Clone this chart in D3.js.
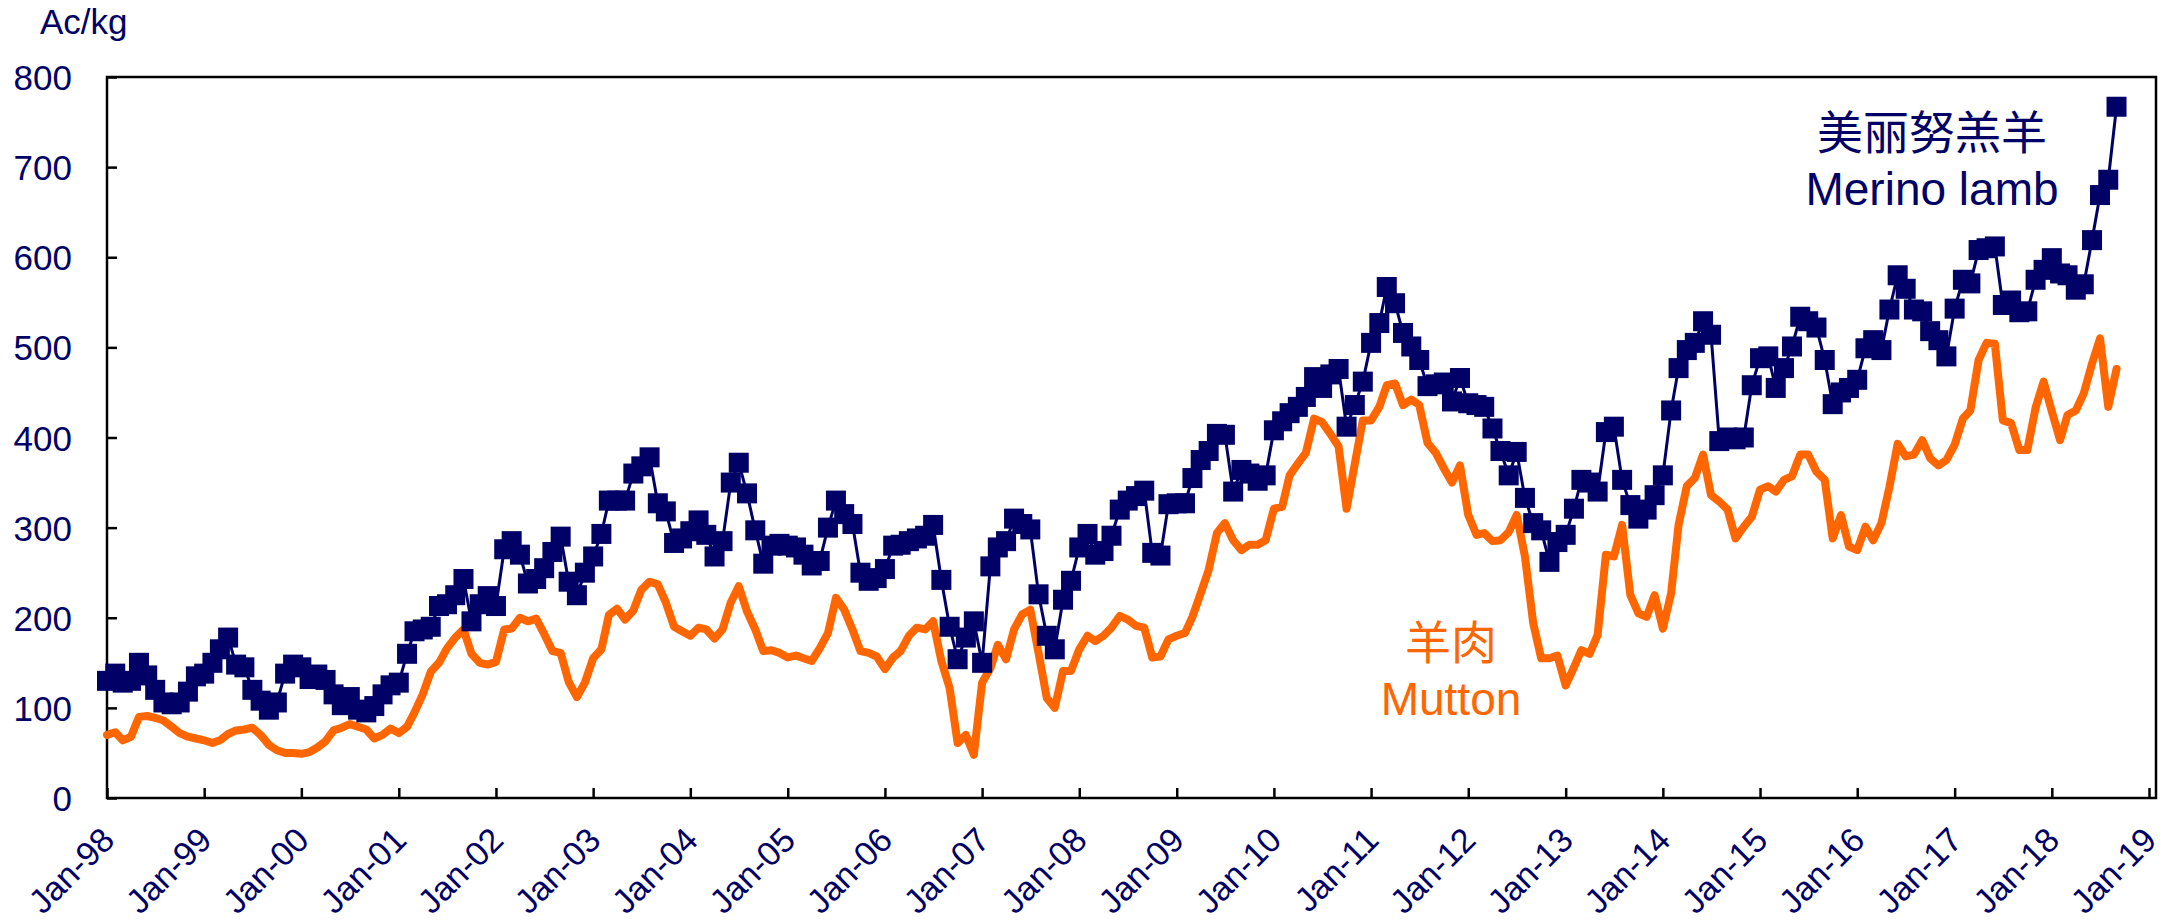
<!DOCTYPE html>
<html>
<head>
<meta charset="utf-8">
<script src="https://cdn.jsdelivr.net/npm/d3@7"></script>
<style>
  body { margin: 0; background: #fff; }
  svg text { font-family: "Liberation Sans", Arial, "Noto Sans CJK SC", sans-serif; }
</style>
</head>
<body>
<div id="grafico"></div>
<script>
// monthly prices, Ac/kg, first value = Jan-98
var merinoLamb = [
    130, 138, 128, 130, 150, 136, 120, 106, 104, 106, 118, 135,
    138, 150, 165, 178, 148, 145, 120, 108, 98, 106, 138, 148,
    145, 132, 137, 131, 115, 103, 112, 98, 95, 102, 115, 125,
    128, 160, 185, 187, 190, 213, 215, 225, 243, 196, 215, 224,
    213, 276, 285, 270, 238, 243, 255, 273, 290, 240, 225, 250,
    268, 293, 330, 330, 330, 360, 368, 378, 327, 318, 283, 288,
    296, 308, 292, 268, 285, 350, 372, 338, 297, 260, 280, 282,
    280, 278, 270, 258, 263, 300, 330, 315, 304, 250, 241, 244,
    254, 280, 281, 285, 288, 291, 303, 242, 190, 154, 178, 196,
    150, 257, 278, 285, 310, 304, 298, 226, 180, 165, 220, 241,
    278, 293, 270, 274, 291, 320, 330, 335, 341, 272, 269, 326,
    327, 327, 355, 375, 385, 404, 403, 340, 364, 360, 352, 358,
    408, 418, 427, 434, 445, 467, 455, 470, 476, 412, 436, 462,
    505, 527, 567, 549, 516, 501, 486, 457, 459, 461, 440, 466,
    438, 436, 434, 410, 385, 358, 384, 333, 305, 297, 262, 284,
    292, 321, 353, 350, 340, 406, 412, 353, 325, 310, 320, 336,
    358, 430, 477, 497, 505, 529, 514, 396, 400, 398, 400, 458,
    488, 490, 455, 477, 501, 534, 529, 522, 486, 437, 450, 455,
    464, 499, 508, 497, 542, 580, 565, 542, 540, 518, 508, 490,
    543, 575, 571, 608, 610, 612, 547, 552, 539, 540, 575, 586,
    599, 582, 580, 564, 570, 619, 669, 686, 767
];
var mutton = [
    70, 73, 64, 68, 90, 91, 89, 86, 79, 72, 68, 66,
    64, 61, 64, 71, 75, 76, 78, 70, 59, 53, 50, 50,
    49, 51, 56, 63, 75, 78, 82, 79, 76, 66, 70, 77,
    72, 79, 95, 115, 140, 150, 166, 178, 187, 160, 150, 148,
    151, 187, 188, 200, 196, 199, 182, 163, 161, 129, 112, 128,
    155, 165, 203, 210, 198, 208, 231, 240, 237, 217, 190, 185,
    180, 189, 187, 177, 187, 217, 235, 207, 187, 163, 164, 161,
    156, 158, 155, 152, 166, 183, 222, 209, 187, 163, 161, 157,
    143, 156, 163, 180, 189, 187, 196, 152, 122, 61, 70, 48,
    128, 144, 170, 154, 187, 204, 209, 161, 111, 100, 141, 141,
    165, 180, 174, 180, 189, 202, 198, 191, 189, 156, 157, 176,
    180, 183, 201, 227, 253, 294, 305, 286, 275, 281, 281, 286,
    321, 323, 358, 371, 383, 421, 417, 404, 390, 321, 371, 419,
    419, 434, 458, 460, 436, 442, 436, 394, 383, 366, 350, 369,
    314, 292, 294, 285, 286, 295, 314, 268, 194, 155, 155, 158,
    125, 145, 164, 160, 181, 270, 268, 303, 225, 205, 201, 225,
    188, 227, 303, 346, 355, 381, 336, 329, 320, 288, 301, 312,
    342, 346, 340, 353, 357, 381, 381, 362, 353, 288, 314, 279,
    275, 301, 286, 305, 345, 393, 379, 381, 397, 377, 369, 375,
    392, 421, 430, 486, 505, 504, 419, 416, 386, 386, 433, 462,
    429, 397, 425, 430, 449, 482, 510, 434, 476
];
var tickLabels = ["Jan-98", "Jan-99", "Jan-00", "Jan-01", "Jan-02", "Jan-03", "Jan-04",
    "Jan-05", "Jan-06", "Jan-07", "Jan-08", "Jan-09", "Jan-10", "Jan-11", "Jan-12",
    "Jan-13", "Jan-14", "Jan-15", "Jan-16", "Jan-17", "Jan-18", "Jan-19"];
var yTicks = [0, 100, 200, 300, 400, 500, 600, 700, 800];
var unitLabel = "Ac/kg";
var merinoName = ["美丽努羔羊", "Merino lamb"];
var muttonName = ["羊肉", "Mutton"];

var navy = "#000066", orange = "#FF6600";
var width = 2171, height = 923;
var plotLeft = 107, plotRight = 2156, plotTop = 77, plotBottom = 798;

var month = function (i) { return new Date(1998, i, 1); };

var x = d3.scaleTime()
    .domain([new Date(1998, 0, 1), new Date(2019, 0, 1)])
    .range([plotLeft, 2149]);
var y = d3.scaleLinear()
    .domain([0, 800])
    .range([plotBottom, plotTop]);

var svg = d3.select("#grafico")
    .append("svg")
    .attr("width", width)
    .attr("height", height)
    .style("display", "block");

// axes, ticks pointing inward
var xTickDates = tickLabels.map(function (d, i) { return new Date(1998 + i, 0, 1); });
var xAxis = svg.append("g")
    .attr("transform", "translate(0," + plotBottom + ")")
    .call(d3.axisBottom(x)
        .tickValues(xTickDates)
        .tickFormat(function (d, i) { return tickLabels[i]; })
        .tickSize(-10)
        .tickSizeOuter(0));
xAxis.select(".domain").remove();
xAxis.selectAll("line").attr("stroke", "#000").attr("stroke-width", 2.5);
xAxis.selectAll("text")
    .attr("x", 9)
    .attr("y", 44)
    .attr("dy", null)
    .attr("text-anchor", "end")
    .attr("transform", "rotate(-45, 9, 44)")
    .style("font-size", "34px")
    .style("fill", navy);

var yAxis = svg.append("g")
    .attr("transform", "translate(" + plotLeft + ",0)")
    .call(d3.axisLeft(y)
        .tickValues(yTicks)
        .tickSize(-10)
        .tickSizeOuter(0)
        .tickPadding(35));
yAxis.select(".domain").remove();
yAxis.selectAll("line").attr("stroke", "#000").attr("stroke-width", 2.5);
yAxis.selectAll("text")
    .attr("dy", "0.36em")
    .style("font-size", "35px")
    .style("fill", navy);

svg.append("rect")
    .attr("x", plotLeft)
    .attr("y", plotTop)
    .attr("width", plotRight - plotLeft)
    .attr("height", plotBottom - plotTop)
    .attr("fill", "none")
    .attr("stroke", "#000")
    .attr("stroke-width", 2.5);

svg.append("text")
    .attr("x", 40)
    .attr("y", 34)
    .text(unitLabel)
    .style("font-size", "35px")
    .style("fill", navy);

// mutton line
var line = d3.line()
    .x(function (d, i) { return x(month(i)); })
    .y(function (d) { return y(d); });

svg.append("path")
    .datum(mutton)
    .attr("d", line)
    .attr("fill", "none")
    .attr("stroke", orange)
    .attr("stroke-width", 8)
    .attr("stroke-linejoin", "round")
    .attr("stroke-linecap", "round");

// merino lamb line + square markers
svg.append("path")
    .datum(merinoLamb)
    .attr("d", line)
    .attr("fill", "none")
    .attr("stroke", navy)
    .attr("stroke-width", 3);

svg.append("g")
    .selectAll("rect")
    .data(merinoLamb).enter()
    .append("rect")
        .attr("x", function (d, i) { return x(month(i)) - 10; })
        .attr("y", function (d) { return y(d) - 10; })
        .attr("width", 20)
        .attr("height", 20)
        .attr("fill", navy);

// series labels
var labelGroup = function (names, cx, y0, color) {
    svg.append("g")
        .selectAll("text")
        .data(names).enter()
        .append("text")
            .attr("x", cx)
            .attr("y", function (d, i) { return y0 + i * 56; })
            .attr("text-anchor", "middle")
            .text(function (d) { return d; })
            .style("font-family", function (d, i) { return i === 0 ? "'Noto Sans CJK SC', sans-serif" : null; })
            .style("font-size", "46px")
            .style("fill", color);
};
labelGroup(merinoName, 1932, 149, navy);
labelGroup(muttonName, 1451, 659, orange);
</script>
</body>
</html>
